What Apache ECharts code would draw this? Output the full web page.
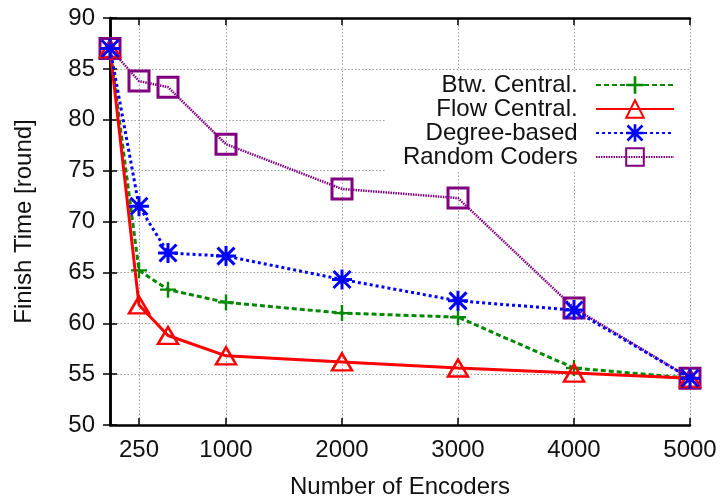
<!DOCTYPE html>
<html>
<head>
<meta charset="utf-8">
<script src="https://cdn.jsdelivr.net/npm/echarts@6/dist/echarts.min.js"></script>
<style>
html,body{margin:0;padding:0;background:#fff;}
#chart{width:722px;height:502px;}
</style>
</head>
<body>
<div id="chart"></div>
<script>
const xValues = [0, 250, 500, 1000, 2000, 3000, 4000, 5000];
const btwCentral = [87, 65.2, 63.3, 62.05, 61.0, 60.6, 55.6, 54.6];
const flowCentral = [87, 61.8, 58.8, 56.8, 56.2, 55.6, 55.1, 54.6];
const degreeBased = [87, 71.5, 66.9, 66.6, 64.3, 62.2, 61.3, 54.6];
const randomCoders = [87, 83.8, 83.2, 77.6, 73.2, 72.3, 61.5, 54.6];
const xTickValues = [250, 1000, 2000, 3000, 4000, 5000];
const seriesNames = ['Btw. Central.', 'Flow Central.', 'Degree-based', 'Random Coders'];

const FONT = '"Liberation Sans", Arial, Helvetica, sans-serif';
const TXT = '#111';

const plusPath = 'path://M8.5 0 H11.5 V8.5 H20 V11.5 H11.5 V20 H8.5 V11.5 H0 V8.5 H8.5 Z';
const starPath = 'path://M8.5 0 H11.5 V8.5 H20 V11.5 H11.5 V20 H8.5 V11.5 H0 V8.5 H8.5 Z ' +
  'M2.56 0.44 L19.56 17.44 L17.44 19.56 L0.44 2.56 Z ' +
  'M17.44 0.44 L19.56 2.56 L2.56 19.56 L0.44 17.44 Z';

function pairs(ys) { return xValues.map((x, i) => [x, ys[i]]); }

const chart = echarts.init(document.getElementById('chart'), null, {renderer: 'canvas'});

const axisLineStyle = {color: '#000', width: 2.5};
const gridLine = {show: true, lineStyle: {color: '#9a9a9a', width: 1, type: [1.5, 2]}};

chart.setOption({
  animation: false,
  backgroundColor: '#fff',
  textStyle: {fontFamily: FONT, color: TXT},
  grid: {left: 110, right: 32, top: 18, bottom: 77, containLabel: false, outerBoundsMode: 'none'},
  xAxis: [{
    type: 'value', min: 0, max: 5000, position: 'bottom',
    name: 'Number of Encoders', nameLocation: 'middle', nameGap: 50,
    nameTextStyle: {fontSize: 24, color: TXT, fontFamily: FONT},
    axisLine: {show: true, lineStyle: axisLineStyle},
    axisTick: {show: true, inside: true, length: 7, customValues: xTickValues, lineStyle: {color: '#000', width: 1.5}},
    axisLabel: {show: true, customValues: xTickValues, fontSize: 24, color: TXT, margin: 13, fontFamily: FONT,
      formatter: v => String(v)},
    splitLine: gridLine
  }, {
    type: 'value', min: 0, max: 5000, position: 'top',
    axisLine: {show: true, lineStyle: axisLineStyle},
    axisTick: {show: true, inside: true, length: 7, customValues: xTickValues, lineStyle: {color: '#000', width: 1.5}},
    axisLabel: {show: false},
    splitLine: {show: false}
  }],
  yAxis: [{
    type: 'value', min: 50, max: 90, interval: 5, position: 'left',
    name: 'Finish Time [round]', nameLocation: 'middle', nameGap: 74,
    nameTextStyle: {fontSize: 24, color: TXT, fontFamily: FONT},
    axisLine: {show: true, lineStyle: axisLineStyle},
    axisTick: {show: true, inside: true, length: 7, lineStyle: {color: '#000', width: 1.5}},
    axisLabel: {show: true, fontSize: 24, color: TXT, margin: 15, fontFamily: FONT},
    splitLine: gridLine
  }, {
    type: 'value', min: 50, max: 90, interval: 5, position: 'right',
    axisLine: {show: true, lineStyle: axisLineStyle},
    axisTick: {show: true, inside: true, length: 7, lineStyle: {color: '#000', width: 1.5}},
    axisLabel: {show: false},
    splitLine: {show: false}
  }],
  legend: {
    data: seriesNames,
    orient: 'vertical',
    align: 'right',
    right: 32, top: 71,
    padding: [2, 15, 2, 17],
    backgroundColor: '#fff',
    itemWidth: 78, itemHeight: 22, itemGap: 0,
    formatter: n => n + '  ',
    textStyle: {fontSize: 24, color: TXT, fontFamily: FONT},
    selectedMode: false
  },
  series: [
    {
      name: seriesNames[3], type: 'line', data: pairs(randomCoders),
      symbol: 'rect', symbolSize: 20, clip: false,
      lineStyle: {color: '#800080', width: 2.5, type: [1.5, 1]},
      itemStyle: {color: 'transparent', borderColor: '#800080', borderWidth: 3},
      emphasis: {disabled: true}, z: 2
    },
    {
      name: seriesNames[0], type: 'line', data: pairs(btwCentral),
      symbol: plusPath, symbolSize: 16, clip: false,
      lineStyle: {color: '#008800', width: 3, type: [5, 3]},
      itemStyle: {color: '#008800', borderWidth: 0},
      emphasis: {disabled: true}, z: 3
    },
    {
      name: seriesNames[1], type: 'line', data: pairs(flowCentral),
      symbol: 'triangle', symbolSize: [20, 17], clip: false,
      lineStyle: {color: '#ff0000', width: 3, type: 'solid'},
      itemStyle: {color: 'transparent', borderColor: '#ff0000', borderWidth: 2.5},
      emphasis: {disabled: true}, z: 4
    },
    {
      name: seriesNames[2], type: 'line', data: pairs(degreeBased),
      symbol: starPath, symbolSize: 20, clip: false,
      lineStyle: {color: '#0000ff', width: 3, type: [3, 3]},
      itemStyle: {color: '#0000ff', borderWidth: 0},
      emphasis: {disabled: true}, z: 5
    }
  ]
});
</script>
</body>
</html>
